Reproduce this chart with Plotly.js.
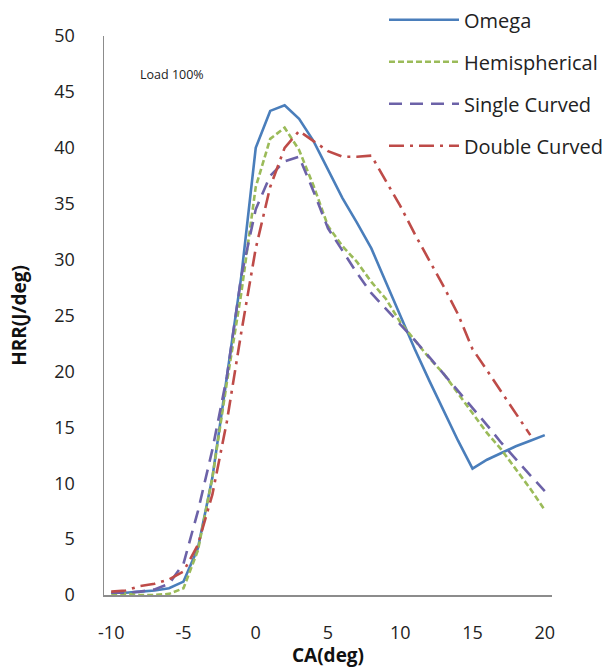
<!DOCTYPE html>
<html>
<head>
<meta charset="utf-8">
<script src="https://cdn.plot.ly/plotly-3.0.1.min.js"></script>
<style>
  html, body { margin: 0; padding: 0; background: #fff; }
  #chart { width: 607px; height: 668px; }
</style>
</head>
<body>
<div id="chart"></div>
<script>
// Crank angle (deg) and heat release rate (J/deg) for each piston bowl shape
const ca = [-10, -9, -8, -7, -6, -5, -4, -3, -2, -1, 0, 1, 2, 3, 4, 5, 6, 7, 8, 9, 10,
            11, 12, 13, 14, 15, 16, 17, 18, 19, 20];
const omega = [0.2, 0.2, 0.3, 0.4, 0.6, 1.2, 4.2, 10.5, 19.5, 28.5, 40.0, 43.3, 43.8, 42.6, 40.6, 38.0,
               35.5, 33.3, 31.0, 28.0, 25.0, 22.0, 19.2, 16.5, 13.8, 11.3, 12.1, 12.7, 13.3, 13.8, 14.3];
const hemispherical = [0.1, 0.1, 0.0, 0.0, 0.1, 0.6, 4.0, 10.5, 19.0, 27.0, 36.5, 40.8, 41.8, 39.8, 36.6, 33.0,
                       31.2, 29.8, 28.0, 26.5, 24.4, 22.8, 21.2, 19.8, 18.0, 16.3, 14.5, 13.0, 11.3, 9.5, 7.6];
const singleCurved = [0.2, 0.2, 0.3, 0.5, 1.0, 2.8, 7.5, 13.0, 19.5, 28.5, 34.5, 37.5, 38.8, 39.2, 36.1, 32.8,
                      30.8, 28.8, 27.0, 25.6, 24.2, 22.8, 21.3, 19.8, 18.3, 16.8, 15.2, 13.6, 12.1, 10.7, 9.3];
const doubleCurved = [0.3, 0.4, 0.8, 1.0, 1.4, 2.1, 4.5, 9.0, 15.5, 23.5, 31.0, 36.5, 40.0, 41.5, 40.6, 39.7,
                      39.2, 39.2, 39.3, 37.0, 34.8, 32.3, 30.0, 27.6, 25.1, 22.0, 20.1, 18.2, 16.2, 14.3];
const xTicks = [-10, -5, 0, 5, 10, 15, 20];
const yTicks = [0, 5, 10, 15, 20, 25, 30, 35, 40, 45, 50];

const FONT = '"Open Sans", "Noto Sans", "Liberation Sans", sans-serif';

function series(name, y, color, dash, group) {
  return {
    type: 'scatter', mode: 'lines', name: name,
    x: ca.slice(0, y.length), y: y,
    legendgroup: group,
    line: { color: color, width: 2.6, dash: dash }
  };
}

const data = [
  series('Omega', omega, '#4a7ebb', 'solid', 'a'),
  series('Hemispherical', hemispherical, '#9bbb59', '6px,3px', 'b'),
  series('Single Curved', singleCurved, '#6c62a8', '13px,8px', 'c'),
  series('Double Curved', doubleCurved, '#be4b48', '15px,6px,3px,6px', 'd')
];

const layout = {
  width: 607, height: 668,
  margin: { l: 104, r: 55, t: 36, b: 73, autoexpand: false },
  paper_bgcolor: '#ffffff', plot_bgcolor: '#ffffff',
  font: { family: FONT, color: '#222', size: 18 },
  showlegend: true,
  legend: {
    x: 0.625, y: 1.064, xanchor: 'left', yanchor: 'top',
    bgcolor: 'rgba(0,0,0,0)', font: { size: 20, family: FONT, color: '#222' },
    tracegroupgap: 13, itemwidth: 70, traceorder: 'grouped'
  },
  xaxis: {
    range: [-10.5, 20.5], tickvals: xTicks, ticktext: xTicks.map(String),
    showgrid: false, zeroline: false, showline: true, linecolor: '#8c8c8c', linewidth: 1.5,
    ticks: '', ticklabelstandoff: 21, tickfont: { size: 18, family: FONT, color: '#222' },
    title: { text: '<b>CA(deg)</b>', font: { size: 19, family: FONT, color: '#111' }, standoff: 0 }
  },
  yaxis: {
    range: [0, 50], tickvals: yTicks, ticktext: yTicks.map(String),
    showgrid: false, zeroline: false, showline: true, linecolor: '#8c8c8c', linewidth: 1.5,
    ticks: '', ticklabelstandoff: 24, tickfont: { size: 18, family: FONT, color: '#222' },
    title: { text: '<b>HRR(J/deg)</b>', font: { size: 19, family: FONT, color: '#111' }, standoff: 22 }
  },
  annotations: [{
    xref: 'paper', yref: 'paper', x: 0.075, y: 0.932, xanchor: 'left', yanchor: 'middle',
    text: 'Load 100%', showarrow: false, font: { size: 12.5, family: FONT, color: '#222' }
  }]
};

Plotly.newPlot('chart', data, layout, { displayModeBar: false, staticPlot: true });
</script>
</body>
</html>
